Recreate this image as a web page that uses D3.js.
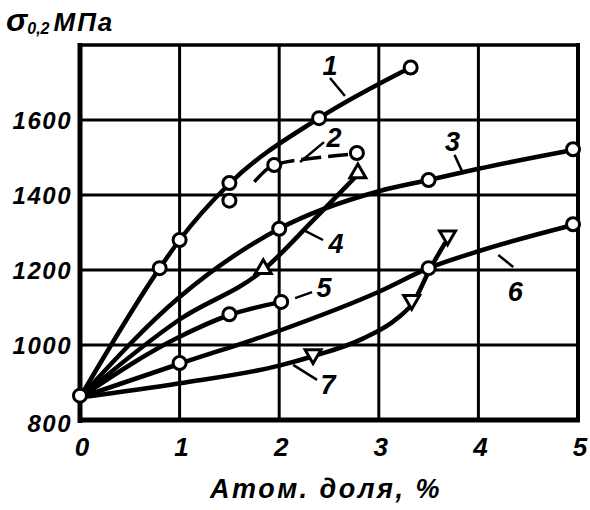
<!DOCTYPE html>
<html>
<head>
<meta charset="utf-8">
<script src="https://cdn.jsdelivr.net/npm/d3@7"></script>
<style>
  body { margin: 0; background: #fff; }
  text { font-family: "Liberation Sans", Arial, sans-serif; font-weight: bold; font-style: italic; fill: #000; }
</style>
</head>
<body>
<svg id="chart" width="590" height="510"></svg>
<script>
const xTicks = [0, 1, 2, 3, 4, 5];
const yTicks = [800, 1000, 1200, 1400, 1600];
const xTitle = 'Атом. доля, %';

// curves (x = atom. %, y = MPa)
const curve1 = [[0, 860], [0.8, 1205], [1, 1280], [1.5, 1430], [2.4, 1605], [3.32, 1740]];
const curve2 = [[1.75, 1435], [1.95, 1480], [2.4, 1500], [2.78, 1510]];
const curve3 = [[0, 860], [1, 1128], [2, 1310], [3, 1410], [3.5, 1440], [4, 1470], [4.95, 1520]];
const curve4 = [[0, 860], [1, 1068], [1.84, 1200], [2.35, 1335], [2.79, 1455]];
const curve5 = [[0, 860], [1, 1022], [1.5, 1080], [2.02, 1115]];
const curve6 = [[0, 860], [1, 950], [2, 1038], [3, 1142], [3.5, 1205], [4, 1250], [4.95, 1320]];
const curve7 = [[0, 860], [1, 898], [2, 945], [2.34, 970], [2.84, 1017], [3.18, 1070], [3.35, 1115], [3.5, 1195], [3.66, 1270]];

const circlePoints = [
  [0, 865],
  [0.8, 1205], [1, 1280], [1.5, 1432], [2.4, 1605], [3.32, 1740],
  [1.5, 1385], [1.95, 1480], [2.78, 1512],
  [2, 1310], [3.5, 1440], [4.95, 1522],
  [1.5, 1082], [2.02, 1115],
  [1, 952], [3.5, 1205], [4.95, 1322],
];
const upTriangles = [[1.84, 1203], [2.79, 1458]];
const downTriangles = [[2.34, 975], [3.33, 1120], [3.69, 1292]];

const curveLabels = [
  { text: '1', at: [2.51, 1745], from: [2.51, 1712], to: [2.66, 1664] },
  { text: '2', at: [2.55, 1552], from: [2.45, 1541], to: [2.21, 1488] },
  { text: '3', at: [3.74, 1541], from: [3.76, 1507], to: [3.84, 1461] },
  { text: '4', at: [2.57, 1270], from: [2.44, 1280], to: [2.24, 1307] },
  { text: '5', at: [2.45, 1152], from: [2.33, 1141], to: [2.16, 1125] },
  { text: '6', at: [4.37, 1141], from: [4.35, 1208], to: [4.2, 1240] },
  { text: '7', at: [2.49, 893], from: [2.38, 907], to: [2.14, 947] },
];

const margin = { left: 80, right: 12, top: 45, bottom: 90 };
const width = 590;
const height = 510;

const svg = d3.select('#chart');

const x = d3.scaleLinear().domain([0, 5]).range([margin.left, width - margin.right]);
const y = d3.scaleLinear().domain([800, 1800]).range([height - margin.bottom, margin.top]);

// grid
svg.append('g')
  .selectAll('line')
  .data(xTicks.slice(1, -1))
  .enter().append('line')
  .attr('x1', d => x(d)).attr('x2', d => x(d))
  .attr('y1', y(800)).attr('y2', y(1800))
  .attr('stroke', '#000').attr('stroke-width', 3);

svg.append('g')
  .selectAll('line')
  .data(yTicks.slice(1))
  .enter().append('line')
  .attr('x1', x(0)).attr('x2', x(5))
  .attr('y1', d => y(d)).attr('y2', d => y(d))
  .attr('stroke', '#000').attr('stroke-width', 3);

// frame
svg.append('line').attr('x1', x(0)).attr('x2', x(5)).attr('y1', y(1800)).attr('y2', y(1800))
  .attr('stroke', '#000').attr('stroke-width', 3.5);
svg.append('line').attr('x1', x(5)).attr('x2', x(5)).attr('y1', y(1800) - 2).attr('y2', y(800) + 2)
  .attr('stroke', '#000').attr('stroke-width', 4);
svg.append('line').attr('x1', x(0)).attr('x2', x(0)).attr('y1', y(1800) - 2).attr('y2', y(800) + 3)
  .attr('stroke', '#000').attr('stroke-width', 5);
svg.append('line').attr('x1', x(0) - 2).attr('x2', x(5) + 2).attr('y1', y(800)).attr('y2', y(800))
  .attr('stroke', '#000').attr('stroke-width', 5);

// tick labels
svg.append('g')
  .selectAll('text')
  .data(yTicks)
  .enter().append('text')
  .attr('x', x(0) - 8)
  .attr('y', d => y(d) + 9 - (d === 800 ? -3 : 0))
  .attr('text-anchor', 'end')
  .style('font-size', '24px')
  .style('letter-spacing', '1.5px')
  .text(d => d);

svg.append('g')
  .selectAll('text')
  .data(xTicks)
  .enter().append('text')
  .attr('x', d => x(d) + 2)
  .attr('y', y(800) + 36)
  .attr('text-anchor', 'middle')
  .style('font-size', '26px')
  .text(d => d);

svg.append('text')
  .attr('x', 326)
  .attr('y', 498)
  .attr('text-anchor', 'middle')
  .style('font-size', '27px')
  .style('letter-spacing', '2.5px')
  .text(xTitle);

const yTitle = svg.append('text').attr('x', 6).attr('y', 31);
yTitle.append('tspan').style('font-size', '32px').text('σ');
yTitle.append('tspan').attr('dy', 3).style('font-size', '16px').text('0,2');
yTitle.append('tspan').attr('dy', -3).attr('dx', 4).style('font-size', '26px').style('letter-spacing', '2px').text('МПа');

// curves
const line = d3.line()
  .x(d => x(d[0]))
  .y(d => y(d[1]))
  .curve(d3.curveMonotoneX);

[curve1, curve3, curve4, curve5, curve6, curve7].forEach(c => {
  svg.append('path')
    .attr('d', line(c))
    .attr('fill', 'none')
    .attr('stroke', '#000')
    .attr('stroke-width', 4.5)
    .attr('stroke-linecap', 'round');
});

svg.append('path')
  .attr('d', line(curve2))
  .attr('fill', 'none')
  .attr('stroke', '#000')
  .attr('stroke-width', 3.5)
  .attr('stroke-dasharray', '20,7');

// leaders + labels
svg.append('g')
  .selectAll('line')
  .data(curveLabels)
  .enter().append('line')
  .attr('x1', d => x(d.from[0])).attr('y1', d => y(d.from[1]))
  .attr('x2', d => x(d.to[0])).attr('y2', d => y(d.to[1]))
  .attr('stroke', '#000').attr('stroke-width', 2.5);

svg.append('g')
  .selectAll('text')
  .data(curveLabels)
  .enter().append('text')
  .attr('x', d => x(d.at[0]))
  .attr('y', d => y(d.at[1]) + 9)
  .attr('text-anchor', 'middle')
  .style('font-size', '27px')
  .text(d => d.text);

// markers
svg.append('g')
  .selectAll('circle')
  .data(circlePoints)
  .enter().append('circle')
  .attr('cx', d => x(d[0]))
  .attr('cy', d => y(d[1]))
  .attr('r', 6.5)
  .attr('fill', '#fff')
  .attr('stroke', '#000')
  .attr('stroke-width', 3);

const tri = d3.symbol().type(d3.symbolTriangle).size(110);

svg.append('g')
  .selectAll('path')
  .data(upTriangles)
  .enter().append('path')
  .attr('d', tri)
  .attr('transform', d => `translate(${x(d[0])},${y(d[1])})`)
  .attr('fill', '#fff')
  .attr('stroke', '#000')
  .attr('stroke-width', 3);

svg.append('g')
  .selectAll('path')
  .data(downTriangles)
  .enter().append('path')
  .attr('d', tri)
  .attr('transform', d => `translate(${x(d[0])},${y(d[1])})rotate(180)`)
  .attr('fill', '#fff')
  .attr('stroke', '#000')
  .attr('stroke-width', 3);
</script>
</body>
</html>
